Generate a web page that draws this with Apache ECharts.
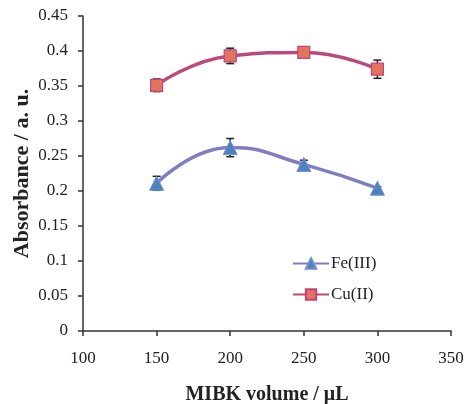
<!DOCTYPE html>
<html><head><meta charset="utf-8">
<script src="https://cdn.jsdelivr.net/npm/echarts@6/dist/echarts.min.js"></script>
<style>html,body{margin:0;padding:0;background:#fff}#c{width:467px;height:404px}</style>
</head><body><div id="c"></div>
<script>
const volumes = [150, 200, 250, 300];
const feValues = [0.211, 0.262, 0.238, 0.204];
const feErrors = [0.010, 0.013, 0.006, 0.002];
const cuValues = [0.351, 0.393, 0.398, 0.374];
const cuErrors = [0.009, 0.011, 0.003, 0.013];

const chart = echarts.init(document.getElementById('c'));
function errSeries(vals, errs) {
  return {
    type: 'custom', silent: true, z: 1,
    data: volumes.map((v, i) => [v, vals[i] - errs[i], vals[i] + errs[i]]),
    renderItem: function (params, api) {
      const x = api.value(0);
      const lo = api.coord([x, api.value(1)]);
      const hi = api.coord([x, api.value(2)]);
      const w = 4;
      const st = { stroke: '#222', lineWidth: 1.5 };
      return { type: 'group', children: [
        { type: 'line', shape: { x1: lo[0], y1: lo[1], x2: hi[0], y2: hi[1] }, style: st },
        { type: 'line', shape: { x1: lo[0] - w, y1: lo[1], x2: lo[0] + w, y2: lo[1] }, style: st },
        { type: 'line', shape: { x1: hi[0] - w, y1: hi[1], x2: hi[0] + w, y2: hi[1] }, style: st }
      ]};
    }
  };
}
const font = '"Liberation Serif", "Times New Roman", serif';
chart.setOption({
  animation: false,
  grid: { left: 83, right: 16, top: 16, bottom: 73, outerBoundsMode: 'none', containLabel: false },
  legend: {
    orient: 'vertical', left: 287, top: 250, itemGap: 14,
    itemWidth: 36, itemHeight: 13,
    textStyle: { fontFamily: font, fontSize: 17, color: '#222', padding: [0, 0, 0, -3] },
    data: ['Fe(III)', 'Cu(II)']
  },
  xAxis: {
    type: 'value', min: 100, max: 350, interval: 50,
    name: 'MIBK volume / μL', nameLocation: 'middle', nameGap: 54, nameMoveOverlap: false,
    nameTextStyle: { fontFamily: font, fontSize: 20, fontWeight: 'bold', color: '#222' },
    axisLine: { lineStyle: { color: '#333', width: 1.5 } },
    axisTick: { show: true, inside: false, length: 5, lineStyle: { color: '#333', width: 1.5 } },
    axisLabel: { fontFamily: font, fontSize: 17, color: '#222', margin: 19 },
    splitLine: { show: false }
  },
  yAxis: {
    type: 'value', min: 0, max: 0.45, interval: 0.05,
    name: 'Absorbance / a. u.', nameLocation: 'middle', nameGap: 50, nameMoveOverlap: false,
    nameTextStyle: { fontFamily: font, fontSize: 22, fontWeight: 'bold', color: '#222' },
    axisLine: { show: true, lineStyle: { color: '#333', width: 1.5 } },
    axisTick: { show: true, inside: false, length: 5, lineStyle: { color: '#333', width: 1.5 } },
    axisLabel: { fontFamily: font, fontSize: 17, color: '#222', margin: 15 },
    splitLine: { show: false }
  },
  series: [
    errSeries(feValues, feErrors),
    errSeries(cuValues, cuErrors),
    {
      name: 'Fe(III)', type: 'line', smooth: 0.5, z: 3,
      data: volumes.map((v, i) => [v, feValues[i]]),
      symbol: 'triangle', symbolSize: 14,
      lineStyle: { color: '#7F7FC0', width: 3.5 },
      itemStyle: { color: '#4F81BD', borderColor: '#6F8FCF', borderWidth: 1 }
    },
    {
      name: 'Cu(II)', type: 'line', smooth: 0.5, z: 3,
      data: volumes.map((v, i) => [v, cuValues[i]]),
      symbol: 'rect', symbolSize: 12,
      lineStyle: { color: '#BB4A7C', width: 3.5 },
      itemStyle: { color: '#E2735E', borderColor: '#C0457E', borderWidth: 1.2 }
    }
  ]
});
</script></body></html>
